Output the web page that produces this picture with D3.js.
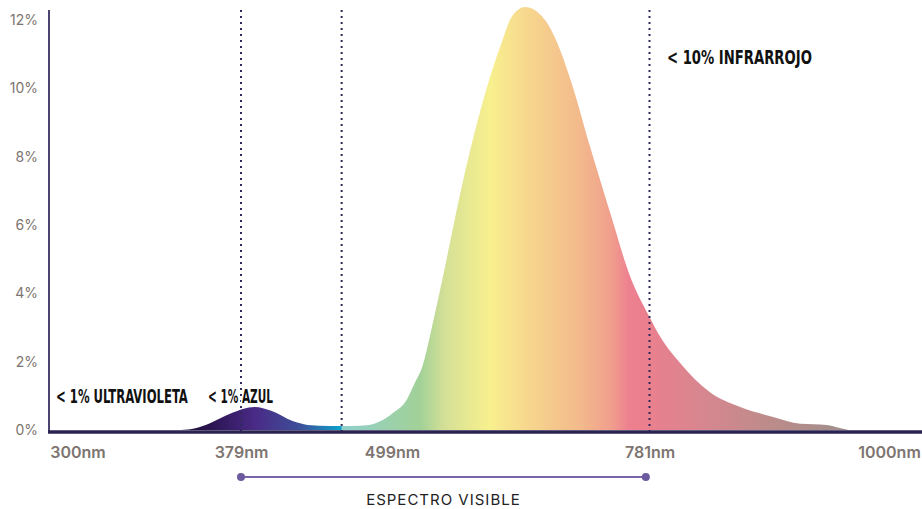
<!DOCTYPE html>
<html>
<head>
<meta charset="utf-8">
<script src="https://cdn.jsdelivr.net/npm/d3@7"></script>
<style>
  body { margin: 0; background: #fff; }
  svg { display: block; }
  .tick text { fill: #7d7470; font-family: Inter, "Open Sans", sans-serif; }
  .note { font-family: "Liberation Sans Narrow", "DejaVu Sans Condensed", sans-serif; font-weight: bold; fill: #111; }
</style>
</head>
<body>
<div id="chart"></div>
<script>
// wavelength (nm) and share of emitted light (%)
var wavelengths = [350, 357, 364, 374, 390, 403, 420, 432, 450, 466, 481, 490, 500, 515, 524, 532, 544, 554, 577, 599, 620, 630, 645, 661, 669, 680, 697, 716, 738, 760, 781, 791, 809, 836, 864, 894, 919, 943, 955, 963];
var shares      = [0, 0.05, 0.2, 0.48, 0.67, 0.56, 0.26, 0.15, 0.12, 0.12, 0.15, 0.26, 0.5, 0.88, 1.38, 1.84, 3.16, 4.39, 7.32, 9.66, 11.41, 12.09, 12.38, 12.17, 11.91, 11.33, 10.04, 8.28, 6.35, 4.48, 3.31, 2.72, 1.96, 1.11, 0.67, 0.38, 0.18, 0.15, 0.06, 0];

var xTicks = [300, 379, 499, 781, 1000];
var xTickPos = [77.5, 241, 392, 649.5, 889];   // label spacing is not linear in the source
var yTicks = [0, 2, 4, 6, 8, 10, 12];
var dividers = [379, 459, 781];
var visibleRange = [379, 777];

// colour stops along the spectrum (nm -> colour)
var stopNm    = [350, 364, 390, 426, 450, 458, 459.5, 530, 557, 606, 645, 705, 738, 758, 775, 827, 900, 963];
var stopColor = ["#1a0c30", "#2a1450", "#4a2a86", "#3d4f99", "#1a8cc0", "#0aa2cc", "#8fd0ca", "#a2d198", "#d5e096", "#f8f08e", "#f7d88e", "#f3b98c", "#f0a08d", "#ee8190", "#ec7f8e", "#d8868f", "#b98c8a", "#9e8f8c"];

var notes = [
  {text: "< 1% ULTRAVIOLETA", x0: 56, y: 403, len: 132},
  {text: "< 1% AZUL", x0: 208, y: 403, len: 65},
  {text: "< 10% INFRARROJO", x0: 667, y: 64, len: 145}
];

var width = 922, height = 509;

var svg = d3.select("#chart").append("svg")
      .attr("width", width)
      .attr("height", height);

var x = d3.scaleLinear().domain(xTicks).range(xTickPos);
var y = d3.scaleLinear().domain([0, 12]).range([430, 20]);

var data = wavelengths.map((w, i) => ({nm: w, v: shares[i]}));

var grad = svg.append("defs").append("linearGradient")
      .attr("id", "spectrum")
      .attr("gradientUnits", "userSpaceOnUse")
      .attr("x1", 0).attr("x2", width)
      .attr("y1", 0).attr("y2", 0);

grad.selectAll("stop")
    .data(stopNm)
  .enter().append("stop")
    .attr("offset", d => x(d) / width)
    .attr("stop-color", (d, i) => stopColor[i]);

var area = d3.area()
      .curve(d3.curveMonotoneX)
      .x(d => x(d.nm))
      .y0(y(0))
      .y1(d => y(d.v));

svg.append("path")
    .datum(data)
    .attr("fill", "url(#spectrum)")
    .attr("d", area);

// dotted dividers
svg.selectAll(".divider")
    .data(dividers)
  .enter().append("line")
    .attr("class", "divider")
    .attr("x1", d => x(d)).attr("x2", d => x(d))
    .attr("y1", 10).attr("y2", 431)
    .attr("stroke", "#2f2a5a")
    .attr("stroke-width", 2)
    .attr("stroke-dasharray", "2,4");

// y axis
var yAxis = d3.axisLeft(y)
      .tickValues(yTicks)
      .tickSize(0)
      .tickPadding(11)
      .tickFormat(d => d + "%");

var gy = svg.append("g")
    .attr("transform", "translate(49,0)")
    .call(yAxis);
gy.select(".domain").remove();
gy.selectAll("text").style("font-size", "14px");

svg.append("line")
    .attr("x1", 49).attr("x2", 49)
    .attr("y1", 10).attr("y2", 433)
    .attr("stroke", "#4a4570")
    .attr("stroke-width", 2);

// x axis
var xAxis = d3.axisBottom(x)
      .tickValues(xTicks)
      .tickSize(0)
      .tickPadding(15)
      .tickFormat(d => d + "nm");

var gx = svg.append("g")
    .attr("transform", "translate(0,432)")
    .call(xAxis);
gx.select(".domain").remove();
gx.selectAll("text").style("font-size", "16px").style("font-weight", 600);

svg.append("line")
    .attr("x1", 48).attr("x2", width)
    .attr("y1", 432).attr("y2", 432)
    .attr("stroke", "#2b2350")
    .attr("stroke-width", 3.5);

// notes, squeezed to the condensed width of the original lettering
// white halo cuts the dotted divider where it runs behind a label
svg.selectAll(".note")
    .data(notes)
  .enter().append("text")
    .attr("class", "note")
    .style("font-size", "20px")
    .style("stroke", "#fff")
    .style("stroke-width", 5)
    .style("paint-order", "stroke")
    .style("stroke-linejoin", "round")
    .text(d => d.text)
    .attr("transform", function(d) {
      var natural = this.getComputedTextLength();
      return `translate(${d.x0},${d.y}) scale(${d.len / natural},1)`;
    });

// visible spectrum bracket
var by = 477;
svg.append("line")
    .attr("x1", x(visibleRange[0])).attr("x2", x(visibleRange[1]))
    .attr("y1", by).attr("y2", by)
    .attr("stroke", "#7a64a8")
    .attr("stroke-width", 2);

svg.selectAll(".endpoint")
    .data(visibleRange)
  .enter().append("circle")
    .attr("class", "endpoint")
    .attr("cx", d => x(d))
    .attr("cy", by)
    .attr("r", 4)
    .attr("fill", "#6b5a9e");

svg.append("text")
    .attr("x", (x(visibleRange[0]) + x(visibleRange[1])) / 2)
    .attr("y", 505)
    .attr("text-anchor", "middle")
    .style("font-family", "Inter, 'Open Sans', sans-serif")
    .style("font-size", "15px")
    .style("letter-spacing", "1px")
    .style("fill", "#222")
    .text("ESPECTRO VISIBLE");
</script>
</body>
</html>
